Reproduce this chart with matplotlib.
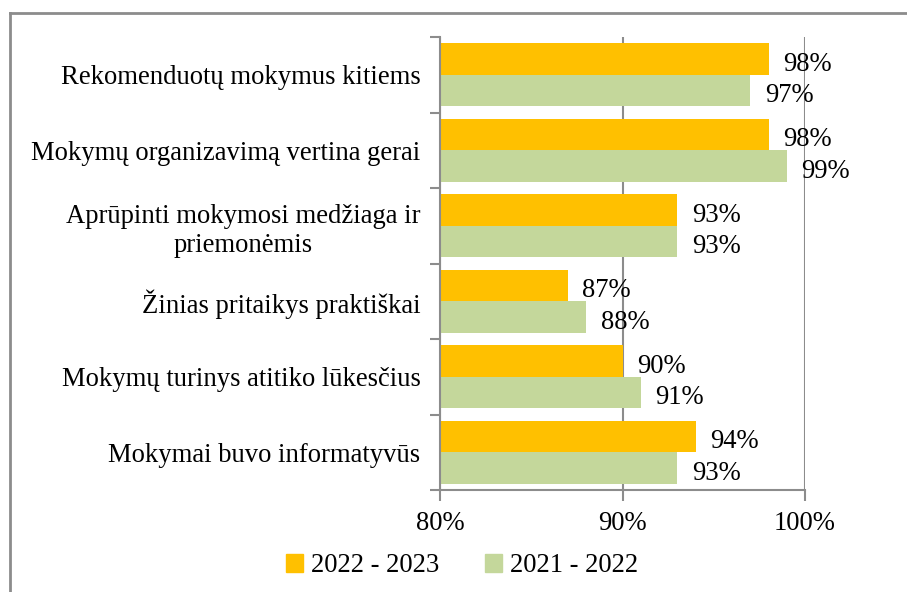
import matplotlib.pyplot as plt
import numpy as np
from matplotlib.lines import Line2D
from matplotlib.patches import Patch

plt.rcParams["font.family"] = ["Liberation Serif", "DejaVu Serif"]

categories = [
    "Rekomenduotų mokymus kitiems",
    "Mokymų organizavimą vertina gerai",
    "Aprūpinti mokymosi medžiaga ir\npriemonėmis",
    "Žinias pritaikys praktiškai",
    "Mokymų turinys atitiko lūkesčius",
    "Mokymai buvo informatyvūs",
]
y2023 = [98, 98, 93, 87, 90, 94]
y2022 = [97, 99, 93, 88, 91, 93]
series_names = ["2022 - 2023", "2021 - 2022"]
xticks = [80, 90, 100]

orange = "#FFC000"
green = "#C4D79B"
gray = "#8C8C8C"
fs = 19.2

fig = plt.figure(figsize=(9.07, 5.92), dpi=100)
ax = fig.add_axes([440 / 907, 1 - 490 / 592, 365 / 907, 453 / 592])

y = np.arange(len(categories))
h = 0.42
ax.barh(y - h / 2, y2023, height=h, color=orange)
ax.barh(y + h / 2, y2022, height=h, color=green)
# bars start at 80%, drawn from 0 and clipped by xlim

for yi, v in zip(y - h / 2, y2023):
    ax.text(v + 0.8, yi + 0.07, f"{v}%", va="center", ha="left", fontsize=fs)
for yi, v in zip(y + h / 2, y2022):
    ax.text(v + 0.8, yi + 0.07, f"{v}%", va="center", ha="left", fontsize=fs)

ax.set_xlim(80, 100)
ax.set_ylim(len(categories) - 0.5, -0.5)
ax.set_xticks(xticks)
ax.set_xticklabels([f"{t}%" for t in xticks], fontsize=fs)
ax.set_yticks(np.arange(len(categories) + 1) - 0.5, minor=True)
ax.set_yticks(y)
ax.set_yticklabels(categories, fontsize=fs, linespacing=1.2, multialignment="center")
ax.tick_params(axis="y", which="major", length=0, pad=14)
ax.tick_params(axis="y", which="minor", length=7, color=gray, width=1.5)
ax.tick_params(axis="x", length=8, color=gray, width=1.5, pad=7, direction="out")

ax.xaxis.grid(True, color=gray, linewidth=1.5)
ax.set_axisbelow(True)
for s in ["top", "right"]:
    ax.spines[s].set_visible(False)
for s in ["left", "bottom"]:
    ax.spines[s].set_color(gray)
    ax.spines[s].set_linewidth(1.5)

handles = [Patch(color=orange), Patch(color=green)]
fig.legend(handles, series_names, loc="center", bbox_to_anchor=(462 / 907, 1 - 566 / 592),
           ncol=2, frameon=False, fontsize=fs, handlelength=0.65, handleheight=0.65,
           handletextpad=0.3, columnspacing=1.7)

fig.add_artist(Line2D([10 / 907, 1], [1 - 13 / 592] * 2, color=gray, lw=2, transform=fig.transFigure))
fig.add_artist(Line2D([10 / 907] * 2, [0, 1 - 13 / 592], color=gray, lw=2, transform=fig.transFigure))

fig.savefig("out.png", dpi=100)
